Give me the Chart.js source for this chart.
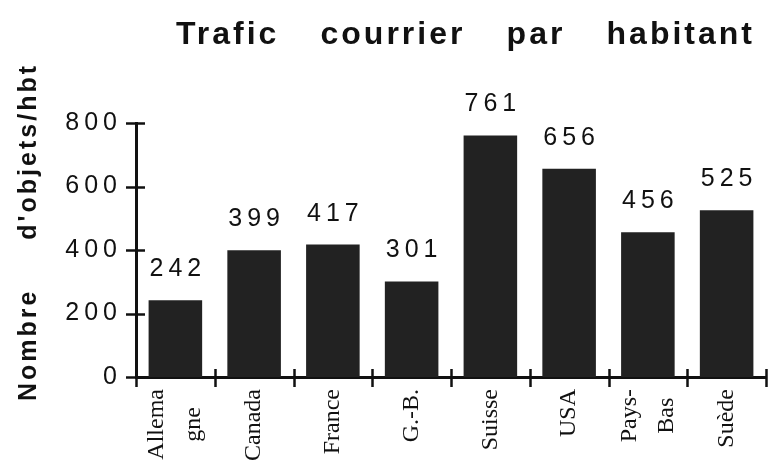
<!DOCTYPE html>
<html>
<head>
<meta charset="utf-8">
<title>Trafic courrier par habitant</title>
<script src="https://cdn.jsdelivr.net/npm/chart.js@4"></script>
<style>
  html, body { margin: 0; padding: 0; background: #fff; }
</style>
</head>
<body>
<canvas id="grafico" width="768" height="467"></canvas>
<script>
// DATI
const TITOLO = "Trafic courrier par habitant";
const TITOLO_Y = "Nombre d'objets/hbt";
const paesi = [["Allema", "gne"], "Canada", "France", "G.-B.", "Suisse", "USA", ["Pays-", "Bas"], "Suède"];
const valori = [242, 399, 417, 301, 761, 656, 456, 525];
const tickY = [0, 200, 400, 600, 800];

const SANS = "'Liberation Sans', Arial, Helvetica, sans-serif";
const SERIF = "'Liberation Serif', 'Times New Roman', serif";
const NERO = '#111';

// scrive le parole distribuendole tra x0 e x1 (spaziatura larga come nell'originale)
function paroleDistribuite(ctx, testo, x0, x1) {
  const parole = testo.split(' ');
  const larg = parole.map(p => ctx.measureText(p).width);
  const tot = larg.reduce((a, b) => a + b, 0);
  const gap = parole.length > 1 ? (x1 - x0 - tot) / (parole.length - 1) : 0;
  let x = x0;
  parole.forEach((p, i) => {
    ctx.fillText(p, x, 0);
    x += larg[i] + gap;
  });
}

const decorazioni = {
  id: 'decorazioni',
  beforeDraw(chart) {
    // spaziatura delle cifre sull'asse y
    chart.ctx.letterSpacing = '5px';
  },
  afterDatasetsDraw(chart) {
    const ctx = chart.ctx;
    const meta = chart.getDatasetMeta(0);
    ctx.save();
    ctx.fillStyle = NERO;
    ctx.font = "25px " + SANS;
    ctx.letterSpacing = '5px';
    ctx.textAlign = 'center';
    ctx.textBaseline = 'alphabetic';
    meta.data.forEach((bar, i) => {
      ctx.fillText(String(valori[i]), bar.x + 2.5, bar.y - 24);
    });
    ctx.restore();
  },
  afterDraw(chart) {
    const ctx = chart.ctx;
    const sx = chart.scales.x, sy = chart.scales.y;
    const area = chart.chartArea;
    ctx.save();
    ctx.letterSpacing = '0px';
    ctx.strokeStyle = NERO;
    ctx.lineWidth = 2.5;

    // tacche asse y (attraversano l'asse)
    tickY.forEach(v => {
      const py = Math.round(sy.getPixelForValue(v)) + 0.5;
      ctx.beginPath();
      ctx.moveTo(area.left - 10, py);
      ctx.lineTo(area.left + 9, py);
      ctx.stroke();
    });

    // tacche asse x ai confini delle categorie
    for (let i = 0; i <= paesi.length; i++) {
      const px = Math.round(sx.getPixelForValue(i - 0.5)) + 0.5;
      ctx.beginPath();
      ctx.moveTo(px, area.bottom - 8);
      ctx.lineTo(px, area.bottom + 10);
      ctx.stroke();
    }

    // etichette paesi, ruotate
    ctx.fillStyle = NERO;
    ctx.font = "24px " + SERIF;
    ctx.textAlign = 'center';
    ctx.textBaseline = 'middle';
    const interlinea = 37;
    paesi.forEach((lab, i) => {
      const righe = Array.isArray(lab) ? lab : [lab];
      const W = Math.max(...righe.map(r => ctx.measureText(r).width));
      const px = sx.getPixelForValue(i);
      ctx.save();
      ctx.translate(px, area.bottom + 12 + W / 2);
      ctx.rotate(-Math.PI / 2);
      righe.forEach((r, j) => {
        ctx.fillText(r, 0, (j - (righe.length - 1) / 2) * interlinea);
      });
      ctx.restore();
    });

    // titolo
    ctx.textAlign = 'left';
    ctx.textBaseline = 'alphabetic';
    ctx.font = "bold 32px " + SANS;
    ctx.letterSpacing = '3px';
    ctx.save();
    ctx.translate(0, 44);
    paroleDistribuite(ctx, TITOLO, 176, 755);
    ctx.restore();

    // titolo asse y
    ctx.font = "bold 25px " + SANS;
    ctx.letterSpacing = '3px';
    ctx.save();
    ctx.translate(36, 401);
    ctx.rotate(-Math.PI / 2);
    paroleDistribuite(ctx, TITOLO_Y, 0, 338);
    ctx.restore();

    ctx.restore();
  }
};

new Chart(document.getElementById('grafico'), {
  type: 'bar',
  data: {
    labels: paesi,
    datasets: [{
      data: valori,
      backgroundColor: '#222222',
      borderWidth: 0,
      barPercentage: 0.68,
      categoryPercentage: 1.0
    }]
  },
  options: {
    responsive: false,
    animation: false,
    devicePixelRatio: 1,
    layout: { padding: { top: 123, right: 2, bottom: 0, left: 0 } },
    plugins: {
      legend: { display: false },
      tooltip: { enabled: false }
    },
    scales: {
      x: {
        offset: true,
        grid: { display: false, drawTicks: false },
        border: { display: true, width: 3, color: NERO },
        ticks: { display: false },
        afterFit(s) { s.height = 90; }
      },
      y: {
        min: 0,
        max: 800,
        grid: { display: false, drawTicks: false },
        border: { display: true, width: 3, color: NERO },
        ticks: {
          stepSize: 200,
          padding: 14,
          color: NERO,
          font: { family: SANS, size: 25 }
        },
        afterFit(s) { s.width = 136; }
      }
    }
  },
  plugins: [decorazioni]
});
</script>
</body>
</html>
